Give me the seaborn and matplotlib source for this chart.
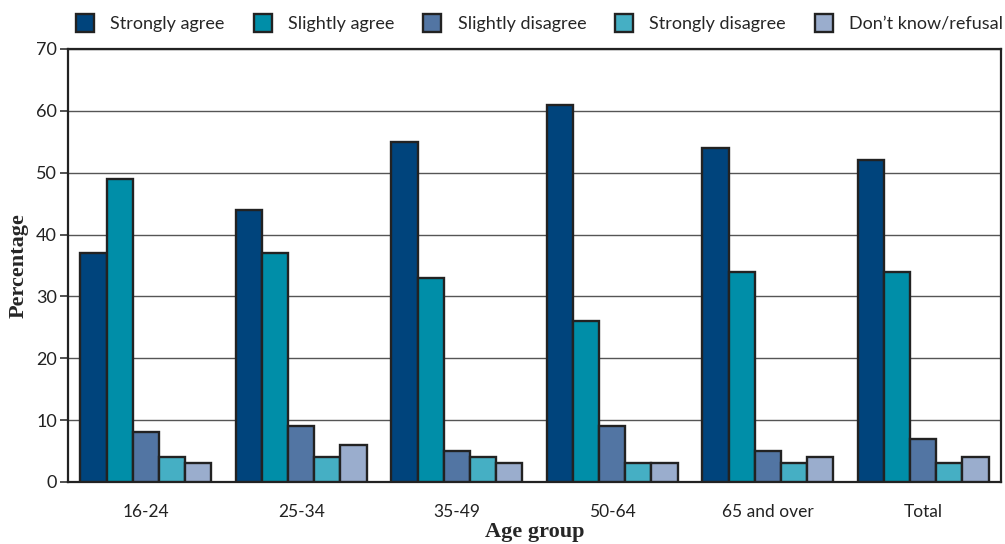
import seaborn as sns
import pandas as pd
import numpy as np
import matplotlib.pyplot as plt

# values
age_groups = ['16-24', '25-34', '35-49', '50-64', '65 and over', 'Total']
responses = ['Strongly agree', 'Slightly agree', 'Slightly disagree',
             'Strongly disagree', 'Don\u2019t know/refusal']
strongly_agree = [37, 44, 55, 61, 54, 52]
slightly_agree = [49, 37, 33, 26, 34, 34]
slightly_disagree = [8, 9, 5, 9, 5, 7]
strongly_disagree = [4, 4, 4, 3, 3, 3]
dont_know = [3, 6, 3, 3, 4, 4]

colours = ['#00447c', '#008ea8', '#5275a3', '#45afc4', '#9aadcd']

series = [strongly_agree, slightly_agree, slightly_disagree,
          strongly_disagree, dont_know]
rows = []
for resp, vals in zip(responses, series):
    for grp, v in zip(age_groups, vals):
        rows.append({'Age group': grp, 'Response': resp, 'Percentage': v})
df = pd.DataFrame(rows)

sns.set_style('white')
plt.rcParams['font.family'] = ['Lato', 'DejaVu Sans']

fig = plt.figure(figsize=(10.05, 5.44), dpi=100)
ax = fig.add_axes([0.0677, 0.114, 0.9283, 0.796])

sns.barplot(data=df, x='Age group', y='Percentage', hue='Response',
            order=age_groups, hue_order=responses, palette=colours,
            width=0.84, edgecolor='#222222', linewidth=1.7, saturation=1,
            ax=ax, zorder=3)

ax.set_ylim(0, 70)
ax.set_xlim(-0.5, 5.5)
ax.set_yticks(np.arange(0, 71, 10))
ax.yaxis.grid(True, color='#555555', linewidth=1.0, zorder=0)
ax.set_axisbelow(True)

ax.set_xticks(np.arange(len(age_groups)))
ax.set_xticklabels(age_groups)
ax.set_xticks(np.arange(-0.5, len(age_groups), 1), minor=True)
ax.tick_params(axis='x', which='major', length=0, pad=16, labelsize=12.5, colors='#222222')
ax.tick_params(axis='x', which='minor', length=9, width=1.2, color='#333333', direction='out')
ax.tick_params(axis='y', length=6, width=1.2, color='#333333', labelsize=13,
               labelcolor='#222222', left=True, pad=2)

for s in ax.spines.values():
    s.set_visible(True)
    s.set_color('#222222')
    s.set_linewidth(1.6)

ax.set_xlabel('Age group', fontsize=16, fontweight='bold',
              family='Liberation Serif', labelpad=1)
ax.set_ylabel('Percentage', fontsize=16, fontweight='bold',
              family='Liberation Serif', labelpad=5)

handles, labels = ax.get_legend_handles_labels()
ax.get_legend().remove()
fig.legend(handles, labels, loc='center', bbox_to_anchor=(0.537, 0.958),
           ncol=5, frameon=False, fontsize=13, handlelength=1.0,
           handleheight=1.2, columnspacing=1.6, handletextpad=0.9,
           borderaxespad=0)

fig.savefig('out.png', dpi=100)
